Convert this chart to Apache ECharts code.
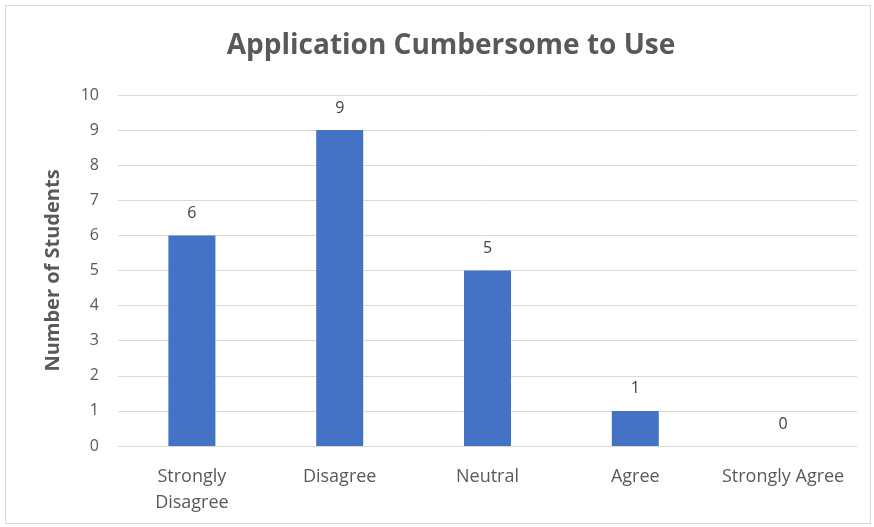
<!DOCTYPE html>
<html>
<head>
<meta charset="utf-8">
<script src="https://cdn.jsdelivr.net/npm/echarts@6/dist/echarts.min.js"></script>
<style>
  html, body { margin: 0; padding: 0; background: #ffffff; }
  #frame { position: absolute; left: 5px; top: 5px; width: 866px; height: 519px; border: 1px solid #d9d9d9; box-sizing: border-box; }
  #chart { position: absolute; left: 0; top: 0; width: 874px; height: 527px; }
</style>
</head>
<body>
<div id="frame"></div>
<div id="chart"></div>
<script>
// Survey responses: "Application Cumbersome to Use"
const categories = ['Strongly\nDisagree', 'Disagree', 'Neutral', 'Agree', 'Strongly Agree'];
const studentCounts = [6, 9, 5, 1, 0];
const yTicks = { min: 0, max: 10, interval: 1 };

const chart = echarts.init(document.getElementById('chart'), null, { renderer: 'canvas' });

chart.setOption({
  animation: false,
  title: {
    text: 'Application Cumbersome to Use',
    left: 446,
    top: 27,
    textAlign: 'center',
    textStyle: {
      fontFamily: '"Open Sans", sans-serif',
      fontSize: 28,
      fontWeight: 'bold',
      color: '#595959'
    }
  },
  grid: { left: 118, right: 17, top: 95, bottom: 81 },
  xAxis: {
    type: 'category',
    data: categories,
    axisLine: { lineStyle: { color: '#d9d9d9', width: 1 } },
    axisTick: { show: false },
    axisLabel: {
      color: '#595959',
      fontFamily: '"Open Sans", sans-serif',
      fontSize: 18,
      lineHeight: 26,
      margin: 18,
      interval: 0
    }
  },
  yAxis: {
    type: 'value',
    min: yTicks.min,
    max: yTicks.max,
    interval: yTicks.interval,
    name: 'Number of Students',
    nameLocation: 'middle',
    nameGap: 55,
    nameTextStyle: {
      color: '#595959',
      fontFamily: '"Open Sans", sans-serif',
      fontSize: 20,
      fontWeight: 'bold'
    },
    axisLine: { show: false },
    axisTick: { show: false },
    splitLine: { lineStyle: { color: '#d9d9d9', width: 1 } },
    axisLabel: {
      color: '#595959',
      fontFamily: '"Open Sans", sans-serif',
      fontSize: 16,
      margin: 19
    }
  },
  series: [{
    type: 'bar',
    data: studentCounts,
    barWidth: 47,
    itemStyle: { color: '#4472c4' },
    label: {
      show: true,
      position: 'top',
      distance: 14,
      color: '#404040',
      fontFamily: '"Open Sans", sans-serif',
      fontSize: 16
    }
  }]
});
</script>
</body>
</html>
